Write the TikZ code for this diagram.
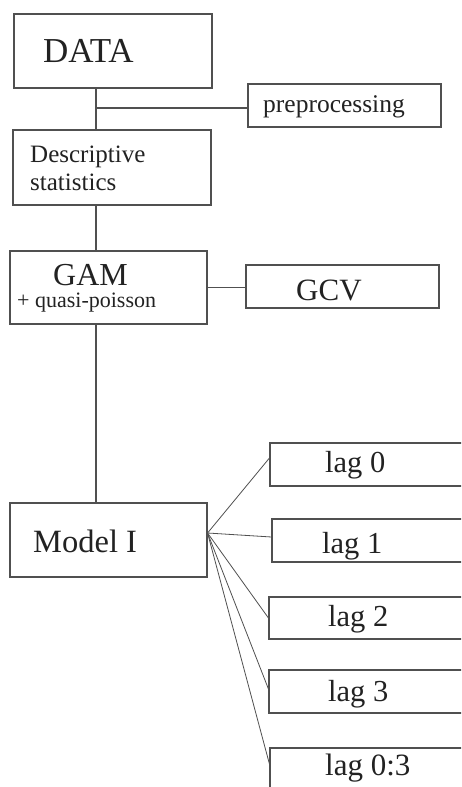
\documentclass[tikz,border=0pt]{standalone}
\usepackage{fontspec}
\setmainfont{Liberation Serif}
\definecolor{linec}{HTML}{505050}
\definecolor{txtc}{HTML}{222222}
\begin{document}
\begin{tikzpicture}[x=1pt,y=-1pt,
  box/.style={draw=linec, line width=1.1pt, inner sep=0pt},
  conn/.style={draw=linec, line width=1.1pt},
  thin/.style={draw=linec, line width=0.8pt},
  lbl/.style={anchor=base west, inner sep=0pt, text=txtc}]
\useasboundingbox (0,0) rectangle (461,787);
\clip (0,0) rectangle (461,787);
\fill[white] (0,0) rectangle (461,787);
% boxes
\node[box, minimum width=198pt, minimum height=74pt] (data) at (113,51) {};
\node[box, minimum width=193pt, minimum height=43pt] (prep) at (344.5,105.5) {};
\node[box, minimum width=198pt, minimum height=75pt] (desc) at (112,167.5) {};
\node[box, minimum width=197pt, minimum height=73pt] (gam) at (108.5,287.5) {};
\node[box, minimum width=193pt, minimum height=43pt] (gcv) at (342.5,286.5) {};
\node[box, minimum width=197pt, minimum height=74pt] (model) at (108.5,540) {};
\node[box, minimum width=210pt, minimum height=43pt] (lag0) at (375,464.5) {};
\node[box, minimum width=208pt, minimum height=43pt] (lag1) at (376,540.5) {};
\node[box, minimum width=211pt, minimum height=42pt] (lag2) at (374.5,618) {};
\node[box, minimum width=211pt, minimum height=43pt] (lag3) at (374.5,691.5) {};
\node[box, minimum width=210pt, minimum height=43pt] (lag03) at (375,769.5) {};
% texts
\node[lbl, font=\fontsize{35}{35}\selectfont] at (43,62) {DATA};
\node[lbl, font=\fontsize{25.5}{25.5}\selectfont] at (263,112) {preprocessing};
\node[lbl, font=\fontsize{25}{25}\selectfont] at (30,162) {Descriptive};
\node[lbl, font=\fontsize{25}{25}\selectfont] at (30,190) {statistics};
\node[lbl, font=\fontsize{32}{32}\selectfont] at (53,285) {GAM};
\node[lbl, font=\fontsize{22}{22}\selectfont] at (17,307) {+ quasi-poisson};
\node[lbl, font=\fontsize{31}{31}\selectfont] at (296,300) {GCV};
\node[lbl, font=\fontsize{32.5}{32.5}\selectfont] at (33,552) {Model I};
\node[lbl, font=\fontsize{30.5}{30.5}\selectfont] at (325,472) {lag 0};
\node[lbl, font=\fontsize{30.5}{30.5}\selectfont] at (322,553) {lag 1};
\node[lbl, font=\fontsize{30.5}{30.5}\selectfont] at (328,626) {lag 2};
\node[lbl, font=\fontsize{30.5}{30.5}\selectfont] at (328,701) {lag 3};
\node[lbl, font=\fontsize{31}{31}\selectfont] at (325,775) {lag 0:3};
% connectors
\coordinate (j1) at (96,108);
\draw[conn] (data.south -| j1) -- (desc.north -| j1);
\draw[conn] (j1) -- (prep.west |- j1);
\draw[conn] (desc.south -| j1) -- (gam.north -| j1);
\draw[conn] (gam.east) -- (gcv.west |- gam.east);
\draw[conn] (gam.south -| j1) -- (model.north -| j1);
\coordinate (fan) at ([yshift=7pt]model.east);
\draw[thin] (fan) -- ([yshift=6.5pt]lag0.west);
\draw[thin] (fan) -- ([yshift=3.5pt]lag1.west);
\draw[thin] (fan) -- (lag2.west);
\draw[thin] (fan) -- ([yshift=2.5pt]lag3.west);
\draw[thin] (fan) -- ([yshift=5.5pt]lag03.west);
\end{tikzpicture}
\end{document}
